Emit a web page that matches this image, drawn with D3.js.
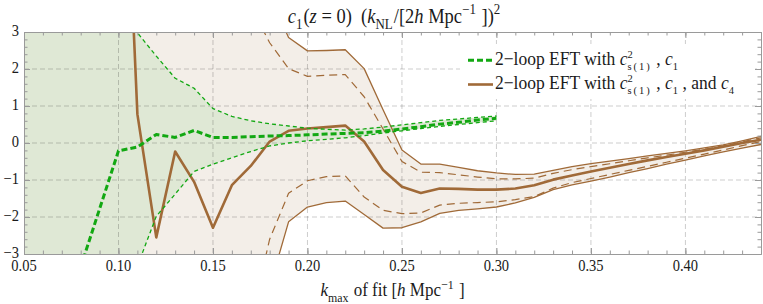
<!DOCTYPE html>
<html>
<head>
<meta charset="utf-8">
<script src="https://cdn.jsdelivr.net/npm/d3@7"></script>
<style>
body { margin: 0; background: #fff; }
svg { display: block; font-family: "Liberation Serif", serif; }
text { font-family: "Liberation Serif", serif; fill: #1a1a1a; white-space: pre; }
</style>
</head>
<body>
<svg id="chart" width="763" height="304"></svg>
<script>
// k_max values of the fits
var kGreen = [0.05, 0.06, 0.07, 0.08, 0.09, 0.10, 0.11, 0.12, 0.13, 0.14, 0.15, 0.16, 0.17,
              0.18, 0.19, 0.20, 0.21, 0.22, 0.23, 0.24, 0.25, 0.26, 0.27, 0.28, 0.29, 0.30];
// 2-loop EFT with cs^2, c1 : best fit and band
var greenMid = [-9.0, -7.4, -5.6, -3.35, -1.78, -0.21, -0.11, 0.23, 0.15, 0.34, 0.15, 0.15, 0.17,
                0.19, 0.20, 0.22, 0.24, 0.26, 0.28, 0.32, 0.38, 0.44, 0.51, 0.56, 0.62, 0.67];
var greenHi  = [14, 13, 12, 10, 8, 5.5, 2.98, 2.35, 1.75, 1.48, 0.93, 0.72, 0.60,
                0.52, 0.46, 0.40, 0.37, 0.35, 0.38, 0.43, 0.49, 0.55, 0.61, 0.65, 0.69, 0.73];
var greenLo  = [-14, -13, -12, -10, -8, -5.5, -3.33, -1.98, -1.38, -0.77, -0.57, -0.40, -0.23,
                -0.08, 0.0, 0.06, 0.10, 0.14, 0.20, 0.27, 0.33, 0.39, 0.45, 0.50, 0.55, 0.60];

var kBrown = [0.10, 0.11, 0.12, 0.13, 0.14, 0.15, 0.16, 0.17, 0.18, 0.19, 0.20, 0.21, 0.22, 0.23,
              0.24, 0.25, 0.26, 0.27, 0.28, 0.29, 0.30, 0.31, 0.32, 0.33, 0.34, 0.35, 0.36, 0.37,
              0.38, 0.39, 0.40, 0.41, 0.42, 0.43, 0.44];
// 2-loop EFT with cs^2, c1 and c4 : best fit, inner (dashed) and outer (solid) edges
var brownMid = [12.5, 0.78, -2.55, -0.23, -1.05, -2.29, -1.14, -0.62, 0.04, 0.33, 0.39, 0.43, 0.47, 0.04,
                -0.73, -1.18, -1.35, -1.23, -1.24, -1.26, -1.26, -1.23, -1.14, -0.99, -0.88, -0.77, -0.67, -0.57,
                -0.47, -0.38, -0.29, -0.20, -0.10, 0.0, 0.09];
var brownHi = [60, 45, 35, 26, 19, 14, 10.5, 7.0, 4.0, 2.85, 2.49, 2.50, 2.52, 2.01,
               0.90, -0.19, -0.57, -0.57, -0.66, -0.75, -0.81, -0.85, -0.84, -0.74, -0.64, -0.56, -0.49, -0.42,
               -0.35, -0.28, -0.21, -0.13, -0.05, 0.06, 0.18];
var brownLo = [-60, -45, -35, -26, -19, -14, -10.5, -7.5, -3.9, -2.13, -1.73, -1.61, -1.57, -1.93,
               -2.30, -2.29, -2.13, -1.90, -1.82, -1.78, -1.73, -1.62, -1.47, -1.26, -1.13, -1.03, -0.92, -0.80,
               -0.69, -0.57, -0.46, -0.35, -0.24, -0.14, -0.04];
var brownHiDash = [45, 34, 26, 19, 13, 9, 6, 3.7, 2.71, 2.01, 1.80, 1.83, 1.85, 1.25,
                   0.38, -0.50, -0.79, -0.80, -0.86, -0.92, -0.97, -0.97, -0.95, -0.82, -0.72, -0.64, -0.56, -0.48,
                   -0.40, -0.33, -0.25, -0.17, -0.08, 0.03, 0.14];
var brownLoDash = [-45, -34, -26, -19, -13, -9, -6.5, -4.8, -2.6, -1.36, -1.02, -0.91, -0.89, -1.46,
                   -1.82, -1.91, -1.89, -1.68, -1.63, -1.61, -1.59, -1.53, -1.45, -1.22, -1.07, -0.96, -0.85, -0.74,
                   -0.63, -0.52, -0.41, -0.30, -0.19, -0.07, 0.04];

var xTicks = [0.05, 0.10, 0.15, 0.20, 0.25, 0.30, 0.35, 0.40];
var xTickLabels = ["0.05", "0.10", "0.15", "0.20", "0.25", "0.30", "0.35", "0.40"];
var yTicks = [-3, -2, -1, 0, 1, 2, 3];
var yTickLabels = ["\u22123", "\u22122", "\u22121", "0", "1", "2", "3"];

// geometry
var plot = { left: 24, right: 761, top: 32, bottom: 254 };

var green = "#12a812", brown = "#a06a38", frameCol = "#9a9a9a";

var xScale = d3.scaleLinear().domain([0.05, 0.44]).range([plot.left, plot.right]);
var yScale = d3.scaleLinear().domain([-3, 3]).range([plot.bottom, plot.top]);

var svg = d3.select("#chart");

svg.append("clipPath").attr("id", "clip")
    .append("rect")
    .attr("x", plot.left).attr("y", plot.top)
    .attr("width", plot.right - plot.left).attr("height", plot.bottom - plot.top);

var body = svg.append("g").attr("clip-path", "url(#clip)");

function zipK(ks, arrs) {
    return ks.map(function(k, i) {
        var d = { k: k };
        for (var name in arrs) d[name] = arrs[name][i];
        return d;
    });
}
var greenData = zipK(kGreen, { mid: greenMid, hi: greenHi, lo: greenLo });
var brownData = zipK(kBrown, { mid: brownMid, hi: brownHi, lo: brownLo, hiD: brownHiDash, loD: brownLoDash });

// bands
var band = function(lo, hi) {
    return d3.area()
        .x(function(d) { return xScale(d.k); })
        .y0(function(d) { return yScale(d[lo]); })
        .y1(function(d) { return yScale(d[hi]); });
};
body.append("path").datum(brownData).attr("d", band("lo", "hi")).attr("fill", "#f3eee8");
body.append("path").datum(greenData).attr("d", band("lo", "hi")).attr("fill", "#dfe8d5");

// grid
body.selectAll(".vgrid").data(xTicks.slice(1)).enter().append("line")
    .attr("x1", xScale).attr("x2", xScale)
    .attr("y1", plot.top).attr("y2", plot.bottom)
    .attr("stroke", "#000").attr("stroke-opacity", 0.2)
    .attr("stroke-dasharray", "5,3");
body.selectAll(".hgrid").data([-2, -1, 0, 1, 2]).enter().append("line")
    .attr("y1", yScale).attr("y2", yScale)
    .attr("x1", plot.left).attr("x2", plot.right)
    .attr("stroke", "#000").attr("stroke-opacity", 0.2)
    .attr("stroke-dasharray", "5,3");

// curves
var curve = function(key) {
    return d3.line()
        .x(function(d) { return xScale(d.k); })
        .y(function(d) { return yScale(d[key]); });
};
function drawLine(data, key, col, w, dash) {
    body.append("path").datum(data)
        .attr("d", curve(key))
        .attr("fill", "none")
        .attr("stroke", col)
        .attr("stroke-width", w)
        .attr("stroke-linejoin", "round")
        .attr("stroke-dasharray", dash || null);
}
drawLine(brownData, "hi", brown, 1.3);
drawLine(brownData, "lo", brown, 1.3);
drawLine(brownData, "hiD", brown, 1.2, "8,5");
drawLine(brownData, "loD", brown, 1.2, "8,5");
drawLine(brownData, "mid", brown, 2.6);
drawLine(greenData, "hi", green, 1.3, "4,3");
drawLine(greenData, "lo", green, 1.3, "4,3");
drawLine(greenData, "mid", green, 3, "6,3");

// frame with inward ticks on all sides
var minorX = d3.range(5, 45).map(function(v) { return v / 100; });
var minorY = d3.range(-15, 16).map(function(v) { return v / 5; });

function frameAxis(axis, tx, ty) {
    var g = svg.append("g").attr("transform", "translate(" + tx + "," + ty + ")").call(axis);
    g.selectAll("line").attr("stroke", frameCol);
    g.select(".domain").attr("stroke", frameCol);
    g.selectAll("text").remove();
    return g;
}
frameAxis(d3.axisBottom(xScale).tickValues(xTicks).tickSize(-6).tickSizeOuter(0), 0, plot.bottom);
frameAxis(d3.axisBottom(xScale).tickValues(minorX).tickSize(-3.5).tickSizeOuter(0), 0, plot.bottom);
frameAxis(d3.axisTop(xScale).tickValues(xTicks).tickSize(-6).tickSizeOuter(0), 0, plot.top);
frameAxis(d3.axisTop(xScale).tickValues(minorX).tickSize(-3.5).tickSizeOuter(0), 0, plot.top);
frameAxis(d3.axisLeft(yScale).tickValues(yTicks).tickSize(-6).tickSizeOuter(0), plot.left, 0);
frameAxis(d3.axisLeft(yScale).tickValues(minorY).tickSize(-3.5).tickSizeOuter(0), plot.left, 0);
frameAxis(d3.axisRight(yScale).tickValues(yTicks).tickSize(-6).tickSizeOuter(0), plot.right, 0);
frameAxis(d3.axisRight(yScale).tickValues(minorY).tickSize(-3.5).tickSizeOuter(0), plot.right, 0);

// tick labels (the picture's text is a little taller than wide)
function label(x, y, str, size, anchor, sy) {
    svg.append("g")
        .attr("transform", "translate(" + x + "," + y + ") scale(1," + sy + ")")
        .append("text")
        .attr("text-anchor", anchor)
        .style("font-size", size + "px")
        .text(str);
}
xTicks.forEach(function(v, i) { label(xScale(v), 271, xTickLabels[i], 14.5, "middle", 1.1); });
yTicks.forEach(function(v, i) { label(19, yScale(v) + 4.2, yTickLabels[i], 14.5, "end", 1.1); });

// text with italics, sub- and superscripts; a "stack" run puts a superscript
// over the following subscript inside one text element
function richText(parent, runs, x, y, size, anchor, opt) {
    var sy = opt.sy, gap = opt.gap, small = opt.small;
    var g = parent.append("g")
        .attr("transform", "translate(" + x + "," + y + ") scale(1," + sy + ")");
    var inner = g.append("g");
    var cx = 0;
    for (var i = 0; i < runs.length; i++) {
        var r = runs[i];
        var t = inner.append("text").attr("x", cx).attr("y", 0);
        if (r.stack) {
            var nxt = runs[++i];
            var a = t.append("tspan").attr("x", cx).attr("y", -size * opt.up)
                .style("font-size", size * small + "px").text(r.t);
            var b = t.append("tspan").attr("x", cx).attr("y", size * opt.down)
                .style("font-size", size * small + "px")
                .style("letter-spacing", opt.spread + "px").text(nxt.t);
            cx += Math.max(a.node().getComputedTextLength(), b.node().getComputedTextLength()) + gap;
            continue;
        }
        var isSmall = r.sub || r.sup;
        t.attr("y", r.sub ? size * opt.down : (r.sup ? -size * opt.up : 0))
            .style("font-size", (isSmall ? size * small : size) + "px")
            .style("font-style", r.i ? "italic" : "normal")
            .text(r.t);
        cx += t.node().getComputedTextLength() + (isSmall ? gap : 0);
    }
    if (anchor === "middle") inner.attr("transform", "translate(" + (-cx / 2) + ",0)");
    return cx;
}

var cx0 = (plot.left + plot.right) / 2;

richText(svg, [
    { t: "c", i: true }, { t: "1", sub: true }, { t: "(" }, { t: "z", i: true }, { t: " = 0)  (" },
    { t: "k", i: true }, { t: "NL", sub: true }, { t: "/[2" }, { t: "h", i: true }, { t: " Mpc" },
    { t: "\u22121", sup: true }, { t: " ])" }, { t: "2", sup: true }
], cx0 + 2, 22.5, 18.5, "middle", { sy: 1.1, gap: 1, small: 0.7, up: 0.4, down: 0.3, spread: 0 });

richText(svg, [
    { t: "k", i: true }, { t: "max", sub: true }, { t: " of fit [" }, { t: "h", i: true },
    { t: " Mpc" }, { t: "\u22121", sup: true }, { t: " ]" }
], cx0, 296, 17, "middle", { sy: 1.1, gap: 1, small: 0.7, up: 0.4, down: 0.3, spread: 0 });

// legend
svg.append("rect").attr("x", 460).attr("y", 44).attr("width", 295).attr("height", 55).attr("fill", "#fff");

var legendRows = [
    { y: 60.3, col: green, w: 3, dash: "6,3",
      runs: [{ t: "2\u2212loop EFT with " }, { t: "c", i: true }, { t: "2", stack: true },
             { t: "s(1)" }, { t: ", " }, { t: "c", i: true }, { t: "1", sub: true }] },
    { y: 84.5, col: brown, w: 2.6, dash: null,
      runs: [{ t: "2\u2212loop EFT with " }, { t: "c", i: true }, { t: "2", stack: true },
             { t: "s(1)" }, { t: ", " }, { t: "c", i: true }, { t: "1", sub: true },
             { t: ", and " }, { t: "c", i: true }, { t: "4", sub: true }] }
];
legendRows.forEach(function(row) {
    svg.append("line")
        .attr("x1", 468).attr("x2", 493)
        .attr("y1", row.y).attr("y2", row.y)
        .attr("stroke", row.col).attr("stroke-width", row.w)
        .attr("stroke-dasharray", row.dash);
    richText(svg, row.runs, 495, row.y + 4.6, 17.5, "start",
        { sy: 1.04, gap: 4.5, small: 0.6, up: 0.4, down: 0.27, spread: 2 });
});
</script>
</body>
</html>
